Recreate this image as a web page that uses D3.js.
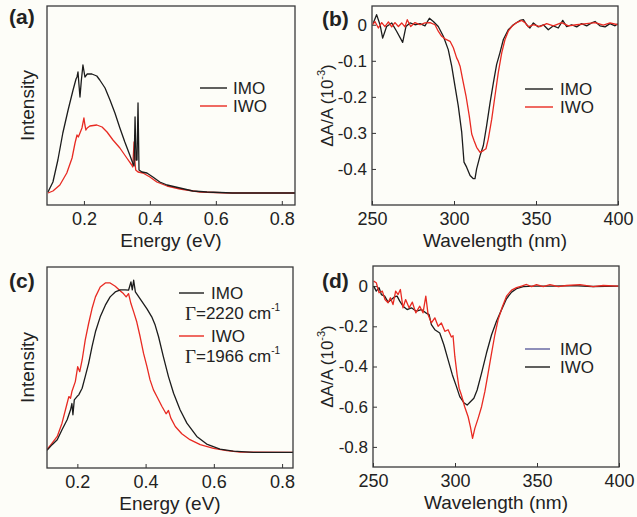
<!DOCTYPE html>
<html><head><meta charset="utf-8">
<script src="https://cdn.jsdelivr.net/npm/d3@7/dist/d3.min.js"></script>
<style>
html,body{margin:0;padding:0;background:#fdfdf8;}
svg{display:block;font-family:"Liberation Sans",Arial,sans-serif;}
</style></head>
<body><svg id="c" width="637" height="517"></svg>
<script>
// ---------- DATA ----------
// Panel (a): Intensity (a.u.) vs Energy (eV)
const aIMO = [[0.091,1],[0.106,11],[0.121,33],[0.136,60],[0.152,83],[0.167,103],[0.176,114],[0.179,116],[0.182,121],[0.185,108],[0.188,96],[0.192,112],[0.197,128],[0.2,122],[0.203,116],[0.21,119],[0.224,119],[0.239,117],[0.248,113],[0.264,105],[0.279,93],[0.294,80],[0.309,65],[0.324,51],[0.339,38],[0.348,30],[0.352,27],[0.355,76],[0.358,33],[0.361,33],[0.364,90],[0.367,23],[0.376,21],[0.391,20],[0.409,16],[0.43,11],[0.452,8],[0.491,5],[0.53,2],[0.573,1],[0.65,0],[0.84,0]];
const aIWO = [[0.091,0],[0.106,2],[0.127,8],[0.148,20],[0.164,35],[0.173,50],[0.179,58],[0.183,56],[0.188,60],[0.194,65],[0.2,75],[0.203,68],[0.206,63],[0.21,65],[0.218,67],[0.239,68],[0.255,66],[0.27,61],[0.288,53],[0.309,45],[0.33,35],[0.345,28],[0.348,26],[0.352,51],[0.355,30],[0.357,23],[0.364,21],[0.379,20],[0.4,16],[0.421,11],[0.452,7],[0.491,4],[0.552,1],[0.642,0],[0.84,0]];
// Panel (b): dA/A (1e-3) vs Wavelength (nm)
const bIMO = [[250.8,0.005],[252.8,0.028],[254.9,0],[256.5,-0.037],[258.9,-0.005],[262,0.005],[265,-0.018],[268.7,-0.049],[270.7,-0.005],[273.2,0.005],[276.2,0],[279.3,0.003],[282.3,-0.003],[285,0.018],[287.4,0.009],[290.4,-0.005],[293.5,-0.032],[296.5,-0.069],[298.6,-0.115],[300.6,-0.17],[302.6,-0.225],[304.7,-0.298],[306.1,-0.381],[307.7,-0.395],[309.8,-0.418],[311.8,-0.427],[312.8,-0.427],[313.8,-0.4],[315.9,-0.363],[317.9,-0.335],[319.9,-0.28],[322,-0.216],[324,-0.161],[326,-0.11],[328,-0.078],[330.1,-0.041],[333.1,-0.014],[336.2,0],[340.2,0.012],[342.3,0.014],[344.3,0],[346.3,-0.009],[348.4,0.005],[351.4,-0.006],[354.5,0],[357.5,-0.014],[360.6,-0.003],[363.6,-0.009],[366.3,0.012],[368.7,-0.005],[371.7,0],[374.8,-0.006],[377.8,0.003],[380.9,-0.003],[383.9,0.005],[386,0.009],[389,-0.003],[392.1,-0.006],[395.1,0.003],[398.2,-0.003],[399.8,0.003]];
const bIWO = [[250.4,0],[251.8,0.009],[253.9,-0.009],[255.9,0.006],[257.9,-0.005],[260,0.008],[262,-0.006],[264,0.006],[266.1,-0.005],[268.1,0.005],[270.1,-0.006],[271.5,0.014],[273.6,-0.005],[276.2,0.006],[279.3,0],[282.3,0.005],[285.4,0.006],[288.4,0],[290.4,-0.018],[292.5,-0.032],[294.5,-0.039],[297.6,-0.046],[299.6,-0.064],[301.6,-0.092],[302.6,-0.101],[303.7,-0.115],[305.3,-0.152],[307.3,-0.197],[309.3,-0.253],[310.8,-0.303],[312.2,-0.321],[313.8,-0.34],[315.9,-0.354],[317.9,-0.349],[319.5,-0.344],[320.9,-0.317],[323,-0.262],[325,-0.197],[327,-0.133],[329.1,-0.078],[331.1,-0.041],[333.1,-0.018],[335.2,-0.005],[338.2,0.006],[341.3,0.012],[343.3,0.006],[345.3,-0.006],[348.4,0],[352.4,-0.005],[356.5,0.003],[360.6,-0.003],[365.7,0.006],[369.7,-0.003],[374.8,0],[380.9,0.003],[386,0.006],[391.1,-0.001],[395.1,0.005],[399.8,0]];
// Panel (c): Intensity (a.u.) vs Energy (eV)
const cIMO = [[0.111,2],[0.126,7.7],[0.141,12.7],[0.155,22.7],[0.17,32.7],[0.18,42.7],[0.184,49],[0.187,37.7],[0.191,52.7],[0.199,56],[0.204,57.7],[0.214,64.3],[0.223,76],[0.233,89.3],[0.243,106],[0.253,121],[0.267,136],[0.282,147.7],[0.296,156],[0.311,161],[0.326,163],[0.34,163],[0.35,162.7],[0.357,171],[0.361,163],[0.365,172.7],[0.37,161],[0.384,154],[0.404,144],[0.418,136],[0.428,127.7],[0.438,116],[0.452,96],[0.467,76],[0.482,59.3],[0.501,42.7],[0.521,29.3],[0.55,16],[0.579,8.3],[0.618,3.3],[0.657,1.3],[0.716,0],[0.832,0]];
const cIWO = [[0.111,2.7],[0.126,9.3],[0.141,16],[0.155,29.3],[0.17,49.3],[0.175,56],[0.18,54.3],[0.184,61],[0.194,71],[0.201,86],[0.207,81],[0.214,92.7],[0.223,112.7],[0.233,129.3],[0.243,144.3],[0.253,156],[0.267,166],[0.282,170],[0.296,170],[0.311,166.7],[0.326,162],[0.335,159.3],[0.343,156],[0.35,159.3],[0.357,149.3],[0.365,141],[0.374,131],[0.384,116],[0.394,99.3],[0.404,86],[0.413,72.7],[0.423,62.7],[0.433,56],[0.448,46],[0.46,38.7],[0.467,42],[0.474,34.3],[0.487,26],[0.506,18.7],[0.53,12.7],[0.56,7.7],[0.599,4],[0.638,1.7],[0.677,0.3],[0.832,0]];
// Panel (d): dA/A (1e-3) vs Wavelength (nm)
const dIWO = [[250.4,0],[252,-0.025],[253.7,-0.008],[255.1,-0.042],[257.1,-0.05],[259.2,-0.08],[261.2,-0.067],[263.2,-0.053],[264.7,-0.05],[266.3,-0.075],[268.3,-0.1],[270.8,-0.117],[273.4,-0.108],[276.5,-0.125],[279.5,-0.117],[282.2,-0.133],[284.2,-0.142],[285.6,-0.192],[287.7,-0.217],[290.7,-0.233],[293.2,-0.292],[295.8,-0.367],[298.4,-0.442],[300.9,-0.5],[302.9,-0.55],[305.4,-0.58],[307.4,-0.592],[309.4,-0.575],[311.5,-0.558],[313.5,-0.517],[316.2,-0.433],[319.2,-0.333],[322.3,-0.242],[325.3,-0.175],[328.4,-0.117],[331.4,-0.063],[334.5,-0.03],[337.5,-0.013],[341.6,-0.003],[347.7,0],[359.9,0],[372,0.002],[384,-0.002],[399.6,0]];
const dIMO = [[250.4,0.025],[252,0.017],[253.7,-0.033],[255.7,-0.025],[257.3,-0.067],[259.2,-0.083],[260.6,-0.058],[262.2,-0.092],[263.8,-0.025],[265.3,-0.042],[266.7,-0.017],[268.3,-0.108],[269.9,-0.067],[272,-0.108],[274,-0.08],[276.1,-0.133],[278.5,-0.1],[280.5,-0.133],[282.2,-0.05],[283.6,-0.142],[285.6,-0.183],[287.7,-0.158],[289.7,-0.2],[291.7,-0.183],[293.8,-0.225],[295.8,-0.217],[297.8,-0.253],[298.8,-0.247],[299.9,-0.35],[301.3,-0.442],[302.5,-0.508],[303.9,-0.542],[305.9,-0.6],[308,-0.65],[309.4,-0.7],[310.7,-0.758],[312.1,-0.708],[314.1,-0.658],[316.2,-0.6],[318.2,-0.525],[320.2,-0.433],[322.3,-0.333],[324.3,-0.242],[326.3,-0.167],[329,-0.1],[331.4,-0.05],[334.5,-0.02],[337.5,-0.008],[340.6,0],[343.6,0.008],[346.7,-0.003],[349.7,0.007],[353.8,-0.003],[357.9,0.007],[363,-0.003],[368,0.003],[376.2,0.007],[384.3,-0.003],[390.4,0.003],[399.6,0]];

const energyTicks = [0.2, 0.4, 0.6, 0.8];
const waveTicks = [250, 300, 350, 400];
const bYTicks = [0, -0.1, -0.2, -0.3, -0.4];
const dYTicks = [0, -0.2, -0.4, -0.6, -0.8];

// ---------- DRAW ----------
const svg = d3.select("#c");
const RED = "#e82a22", BLK = "#1c1c1c", SLATE = "#5d5f9e", TXT = "#222";
const FONT = "'Liberation Sans', Arial, sans-serif";

function panel(o) {
  const x = d3.scaleLinear().domain(o.xd).range([o.l, o.r]);
  const y = d3.scaleLinear().domain(o.yd).range([o.b, o.t]);
  const g = svg.append("g");
  const clipId = "clip" + o.label.replace(/\W/g, "");
  g.append("clipPath").attr("id", clipId).append("rect")
    .attr("x", o.l).attr("y", o.t).attr("width", o.r - o.l).attr("height", o.b - o.t);
  // x axis (ticks inward)
  const xa = g.append("g").attr("transform", `translate(0,${o.b})`)
    .call(d3.axisBottom(x).tickValues(o.xt).tickSize(-4).tickPadding(7).tickFormat(o.xf));
  xa.select(".domain").remove();
  xa.selectAll("line").attr("stroke", "#333").attr("stroke-width", 1);
  xa.selectAll("text").attr("font-size", 18).attr("font-family", FONT).attr("fill", TXT);
  if (o.yt) {
    const ya = g.append("g").attr("transform", `translate(${o.l},0)`)
      .call(d3.axisLeft(y).tickValues(o.yt).tickSize(-4).tickPadding(5).tickFormat(o.yf));
    ya.select(".domain").remove();
    ya.selectAll("line").attr("stroke", "#333").attr("stroke-width", 1);
    ya.selectAll("text").attr("font-size", 17).attr("font-family", FONT).attr("fill", TXT);
  }
  // lines
  const line = d3.line().x(d => x(d[0])).y(d => y(d[1]));
  o.series.forEach(s => {
    g.append("path").datum(s.data).attr("clip-path", `url(#${clipId})`)
      .attr("d", line).attr("fill", "none").attr("stroke", s.color)
      .attr("stroke-width", 1.3).attr("stroke-linejoin", "round");
  });
  // frame
  g.append("rect").attr("x", o.l).attr("y", o.t).attr("width", o.r - o.l).attr("height", o.b - o.t)
    .attr("fill", "none").attr("stroke", "#3a3a3a").attr("stroke-width", 1.3);
  // x title
  g.append("text").attr("x", (o.l + o.r) / 2).attr("y", o.b + 42).attr("text-anchor", "middle")
    .attr("font-size", 19).attr("font-family", FONT).attr("fill", TXT).text(o.xtitle);
  // y title
  const yt = g.append("text").attr("transform", `translate(${o.ytx},${(o.t + o.b) / 2}) rotate(-90)`)
    .attr("text-anchor", "middle").attr("font-size", o.ytitle === "dA" ? 17 : 19).attr("font-family", FONT).attr("fill", TXT)
    .attr("dominant-baseline", "central");
  if (o.ytitle === "dA") {
    yt.append("tspan").text("\u0394A/A (10");
    yt.append("tspan").attr("font-size", 11).attr("dy", -6).text("-3");
    yt.append("tspan").attr("dy", 6).text(")");
  } else yt.text(o.ytitle);
  // panel label
  g.append("text").attr("x", o.lx).attr("y", o.ly).attr("font-size", 21).attr("font-weight", "bold")
    .attr("font-family", FONT).attr("fill", TXT).text(o.label);
  // legend
  o.legend.forEach(e => {
    g.append("line").attr("x1", e.x1).attr("x2", e.x2).attr("y1", e.y).attr("y2", e.y)
      .attr("stroke", e.color).attr("stroke-width", 1.4);
    g.append("text").attr("x", e.tx).attr("y", e.y).attr("dominant-baseline", "central")
      .attr("font-size", 17).attr("font-family", FONT).attr("fill", TXT).text(e.text);
    if (e.gamma) {
      const t = g.append("text").attr("x", e.gx).attr("y", e.gy).attr("dominant-baseline", "central")
        .attr("font-size", 17).attr("font-family", FONT).attr("fill", TXT);
      t.append("tspan").attr("font-family", "'Liberation Serif', 'Times New Roman', serif").attr("font-size", 19).text("\u0393");
      t.append("tspan").text("=" + e.gamma + " cm");
      t.append("tspan").attr("font-size", 10).attr("dy", -6).text("-1");
    }
  });
}

const f1 = d3.format(".1f");
const fy = d => d === 0 ? "0" : d3.format(".1f")(d).replace("\u2212", "-");

panel({ label: "(a)", lx: 9, ly: 24, l: 47, r: 295, t: 6, b: 205, xd: [0.088, 0.84], yd: [-12, 187],
  xt: energyTicks, xf: f1, xtitle: "Energy (eV)", ytitle: "Intensity", ytx: 27,
  series: [{ data: aIWO, color: RED }, { data: aIMO, color: BLK }],
  legend: [{ x1: 200, x2: 227, y: 88, tx: 233, text: "IMO", color: BLK },
           { x1: 200, x2: 227, y: 106, tx: 233, text: "IWO", color: RED }] });

panel({ label: "(b)", lx: 322, ly: 26, l: 372, r: 618, t: 6, b: 205, xd: [250, 400], yd: [-0.5, 0.052],
  xt: waveTicks, xf: d3.format("d"), yt: bYTicks, yf: fy, xtitle: "Wavelength (nm)", ytitle: "dA", ytx: 327,
  series: [{ data: bIMO, color: BLK }, { data: bIWO, color: RED }],
  legend: [{ x1: 525, x2: 553, y: 89, tx: 560, text: "IMO", color: BLK },
           { x1: 525, x2: 553, y: 107, tx: 560, text: "IWO", color: RED }] });

panel({ label: "(c)", lx: 9, ly: 288, l: 47, r: 293, t: 267, b: 468, xd: [0.111, 0.832], yd: [-15.7, 186],
  xt: energyTicks, xf: f1, xtitle: "Energy (eV)", ytitle: "Intensity", ytx: 27,
  series: [{ data: cIWO, color: RED }, { data: cIMO, color: BLK }],
  legend: [{ x1: 179, x2: 204, y: 293, tx: 211, text: "IMO", color: BLK, gamma: "2220", gx: 185, gy: 313 },
           { x1: 179, x2: 204, y: 336, tx: 211, text: "IWO", color: RED, gamma: "1966", gx: 185, gy: 356 }] });

panel({ label: "(d)", lx: 322, ly: 288, l: 373, r: 619, t: 266, b: 467, xd: [250, 400], yd: [-0.9, 0.1],
  xt: waveTicks, xf: d3.format("d"), yt: dYTicks, yf: fy, xtitle: "Wavelength (nm)", ytitle: "dA", ytx: 327,
  series: [{ data: dIWO, color: BLK }, { data: dIMO, color: RED }],
  legend: [{ x1: 525, x2: 550, y: 349, tx: 560, text: "IMO", color: SLATE },
           { x1: 525, x2: 550, y: 367, tx: 560, text: "IWO", color: BLK }] });
</script></body></html>
